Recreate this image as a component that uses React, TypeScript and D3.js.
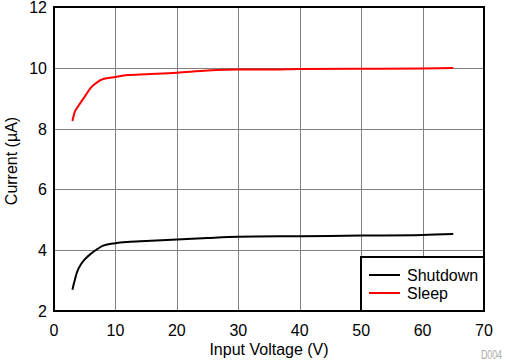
import { useRef, useEffect } from "react";
import * as d3 from "d3";

// input voltage (V) / current (uA)
const sleepV = [3, 3.3, 4, 5, 6, 7, 8, 10, 12, 15, 20, 25, 30, 35, 40, 50, 60, 65];
const sleepI = [8.25, 8.5, 8.75, 9.05, 9.35, 9.52, 9.63, 9.7, 9.76, 9.79, 9.84, 9.91, 9.94, 9.94, 9.96, 9.97, 9.98, 9.99];
const shutV = [3, 3.3, 3.7, 4.5, 5, 6, 7, 8, 10, 12, 15, 20, 25, 30, 40, 50, 60, 65];
const shutI = [2.7, 2.95, 3.25, 3.57, 3.7, 3.88, 4.03, 4.15, 4.23, 4.27, 4.3, 4.35, 4.4, 4.44, 4.46, 4.48, 4.5, 4.53];
const xTicks = [0, 10, 20, 30, 40, 50, 60, 70];
const yTicks = [2, 4, 6, 8, 10, 12];
const seriesNames = ["Shutdown", "Sleep"];
const seriesColors = ["#000000", "#ff0000"];

export default function App() {
  const ref = useRef<SVGSVGElement>(null);
  useEffect(() => {
    const svg = d3.select(ref.current);
    svg.selectAll("*").remove();
    const font = "Arial, 'Liberation Sans', sans-serif";

    const left = 54;
    const right = 484;
    const top = 7;
    const bottom = 311;

    const x = d3.scaleLinear().domain([0, 70]).range([left, right]);
    const y = d3.scaleLinear().domain([2, 12]).range([bottom, top]);

    // grid
    const grid = svg.append("g");
    grid
      .selectAll("line.vx")
      .data(xTicks.slice(1, -1))
      .join("line")
      .attr("x1", (d) => Math.round(x(d)) + 0.5)
      .attr("x2", (d) => Math.round(x(d)) + 0.5)
      .attr("y1", top)
      .attr("y2", bottom)
      .attr("stroke", "#808080")
      .attr("stroke-width", 1);
    grid
      .selectAll("line.hy")
      .data(yTicks.slice(1, -1))
      .join("line")
      .attr("y1", (d) => Math.round(y(d)) + 0.5)
      .attr("y2", (d) => Math.round(y(d)) + 0.5)
      .attr("x1", left)
      .attr("x2", right)
      .attr("stroke", "#808080")
      .attr("stroke-width", 1);

    // tick labels
    svg
      .append("g")
      .selectAll("text")
      .data(xTicks)
      .join("text")
      .attr("x", (d) => x(d))
      .attr("y", 336)
      .attr("text-anchor", "middle")
      .attr("font-family", font)
      .attr("font-size", 16)
      .text((d) => d);
    svg
      .append("g")
      .selectAll("text")
      .data(yTicks)
      .join("text")
      .attr("x", 47)
      .attr("y", (d) => y(d) + 6)
      .attr("text-anchor", "end")
      .attr("font-family", font)
      .attr("font-size", 16)
      .text((d) => d);

    // curves
    const line = d3
      .line<[number, number]>()
      .x((d) => x(d[0]))
      .y((d) => y(d[1]))
      .curve(d3.curveMonotoneX);
    const series: [number, number][][] = [
      shutV.map((v, i) => [v, shutI[i]]),
      sleepV.map((v, i) => [v, sleepI[i]]),
    ];
    svg
      .append("g")
      .selectAll("path")
      .data(series)
      .join("path")
      .attr("d", (d) => line(d))
      .attr("fill", "none")
      .attr("stroke", (_, i) => seriesColors[i])
      .attr("stroke-width", 2);

    // frame
    svg
      .append("rect")
      .attr("x", left)
      .attr("y", top)
      .attr("width", right - left)
      .attr("height", bottom - top)
      .attr("fill", "none")
      .attr("stroke", "#000")
      .attr("stroke-width", 2);

    // legend
    const lg = svg.append("g");
    lg.append("rect")
      .attr("x", 361)
      .attr("y", 257)
      .attr("width", right - 361)
      .attr("height", bottom - 257)
      .attr("fill", "#fff")
      .attr("stroke", "#000")
      .attr("stroke-width", 2);
    seriesNames.forEach((name, i) => {
      const ly = 275 + i * 18;
      lg.append("line")
        .attr("x1", 369)
        .attr("x2", 400)
        .attr("y1", ly)
        .attr("y2", ly)
        .attr("stroke", seriesColors[i])
        .attr("stroke-width", 2);
      lg.append("text")
        .attr("x", 407)
        .attr("y", ly + 6)
        .attr("font-family", font)
        .attr("font-size", 16)
        .text(name);
    });

    // axis titles
    svg
      .append("text")
      .attr("x", 269)
      .attr("y", 355)
      .attr("text-anchor", "middle")
      .attr("font-family", font)
      .attr("font-size", 16)
      .text("Input Voltage (V)");
    svg
      .append("text")
      .attr("transform", `translate(17, 161) rotate(-90)`)
      .attr("text-anchor", "middle")
      .attr("font-family", font)
      .attr("font-size", 16)
      .text("Current (µA)");
    svg
      .append("text")
      .attr("x", 481)
      .attr("y", 359)
      .attr("font-family", font)
      .attr("font-size", 12)
      .attr("textLength", 21)
      .attr("lengthAdjust", "spacingAndGlyphs")
      .attr("fill", "#a8a8a8")
      .text("D004");
  }, []);
  return (
    <svg
      ref={ref}
      width={509}
      height={361}
      style={{ position: "absolute", left: 0, top: 0, background: "#fff" }}
    />
  );
}
